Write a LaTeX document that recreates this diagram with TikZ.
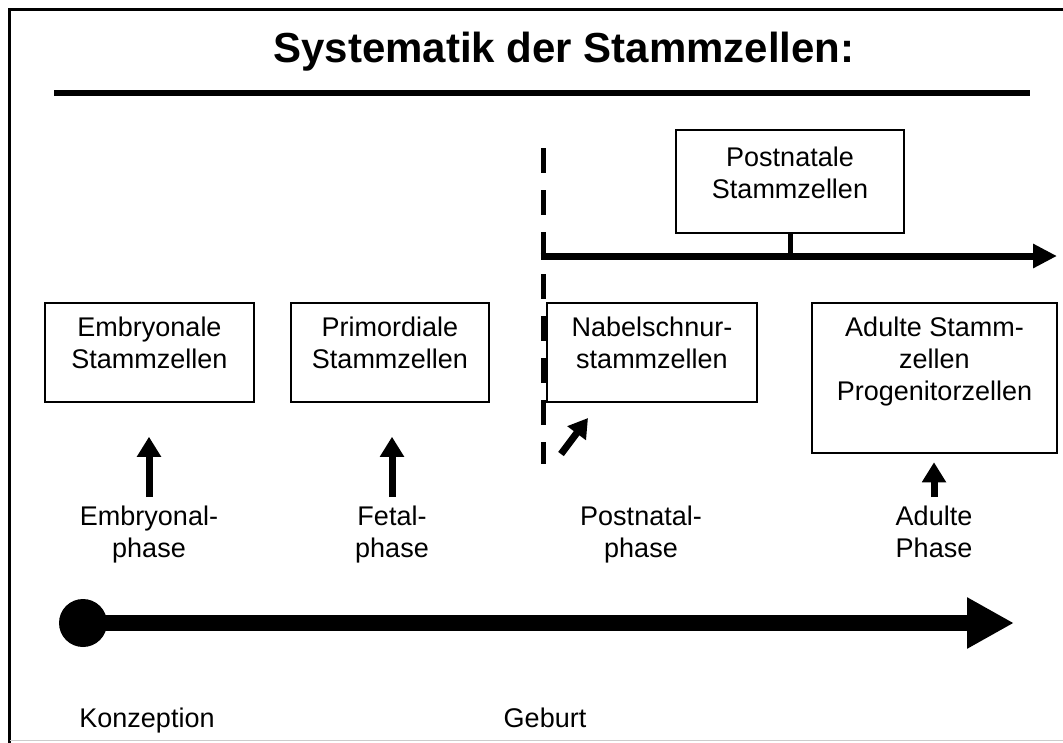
\documentclass[tikz,border=0pt]{standalone}
\usepackage{fontspec}
\setmainfont{Liberation Sans}
\usetikzlibrary{arrows.meta}
\newcommand{\boxtext}[4]{\parbox[c][#2][t]{#1}{\centering\rule{0pt}{#4}#3}}
\tikzset{
  body/.style={font=\fontsize{27}{32}\selectfont},
  cellbox/.style={body, draw, line width=2.5pt, inner sep=0pt},
  phaselabel/.style={body, align=center, inner sep=0pt, anchor=north},
  plaintext/.style={body, anchor=base, inner sep=0pt},
  uparrow/.style={line width=7pt, -{Triangle[length=20pt,width=23pt]}},
  thickrule/.style={line width=6pt},
}
\begin{document}
\begin{tikzpicture}[x=1pt, y=-1pt]
\useasboundingbox (0,0) rectangle (1063,742);
% frame
\draw[line width=3.5pt] (1070,9.5) -- (9.5,9.5) -- (9.5,750);
\draw[black!20, line width=1.5pt] (9.5,740.5) -- (1070,740.5);
% title
\node[font=\fontsize{42}{50}\selectfont\bfseries, anchor=base, inner sep=0pt] (title) at (564,62) {Systematik der Stammzellen:};
\coordinate (ruleL) at (54,93);
\coordinate (ruleR) at (1030,93);
\draw[thickrule] (ruleL) -- (ruleR);
% boxes
\node[cellbox] (emb) at (149.5,352.5) {\boxtext{209pt}{99pt}{Embryonale\\Stammzellen}{33pt}};
\node[cellbox] (prim) at (390,352.5) {\boxtext{198pt}{99pt}{Primordiale\\Stammzellen}{33pt}};
\node[cellbox] (nab) at (652,352.5) {\boxtext{210pt}{99pt}{Nabelschnur-\\stammzellen}{33pt}};
\node[cellbox] (adu) at (934.5,378) {\boxtext{245pt}{150pt}{Adulte Stamm-\\zellen\\Progenitorzellen}{33pt}};
\node[cellbox] (post) at (790,181.5) {\boxtext{228pt}{103pt}{Postnatale\\Stammzellen}{36pt}};
% dashed birth line and postnatal arrow
\coordinate (dtop) at (543,148);
\coordinate (dbot) at (543,464);
\draw[line width=5pt, dash pattern=on 25pt off 17pt] (dtop) -- (dbot);
\coordinate (hstart) at (540.5,256);
\coordinate (hend) at (1057,256);
\draw[line width=7pt, -{Triangle[length=24pt,width=23pt]}] (hstart) -- (hend);
\draw[line width=5pt] (post.south) -- (post.south |- hstart);
% phase labels
\node[phaselabel] (embph) at (149,506) {Embryonal-\\phase};
\node[phaselabel] (fetph) at (392,506) {Fetal-\\phase};
\node[phaselabel] (postph) at (641,506) {Postnatal-\\phase};
\node[phaselabel] (aduph) at (934,506) {Adulte\\Phase};
% up arrows
\draw[uparrow, shorten <=9pt, shorten >=33.5pt] (embph.north) -- (embph.north |- emb.south);
\draw[uparrow, shorten <=9pt, shorten >=33.5pt] (fetph.north) -- (fetph.north |- prim.south);
\draw[uparrow, shorten <=9pt, shorten >=8pt] (aduph.north) -- (aduph.north |- adu.south);
\coordinate (d1) at (561,454);
\coordinate (d2) at (588,418);
\draw[line width=7pt, -{Triangle[length=19pt,width=22pt]}] (d1) -- (d2);
% timeline
\node[circle, fill, minimum size=48pt, inner sep=0pt] (conc) at (83,623) {};
\coordinate (tend) at (1014,623);
\draw[line width=16pt, -{Triangle[length=47pt,width=48pt]}] (conc.center) -- (tend);
\node[plaintext] (konz) at (147,727) {Konzeption};
\node[plaintext] (geb) at (545,727) {Geburt};
\end{tikzpicture}
\end{document}
